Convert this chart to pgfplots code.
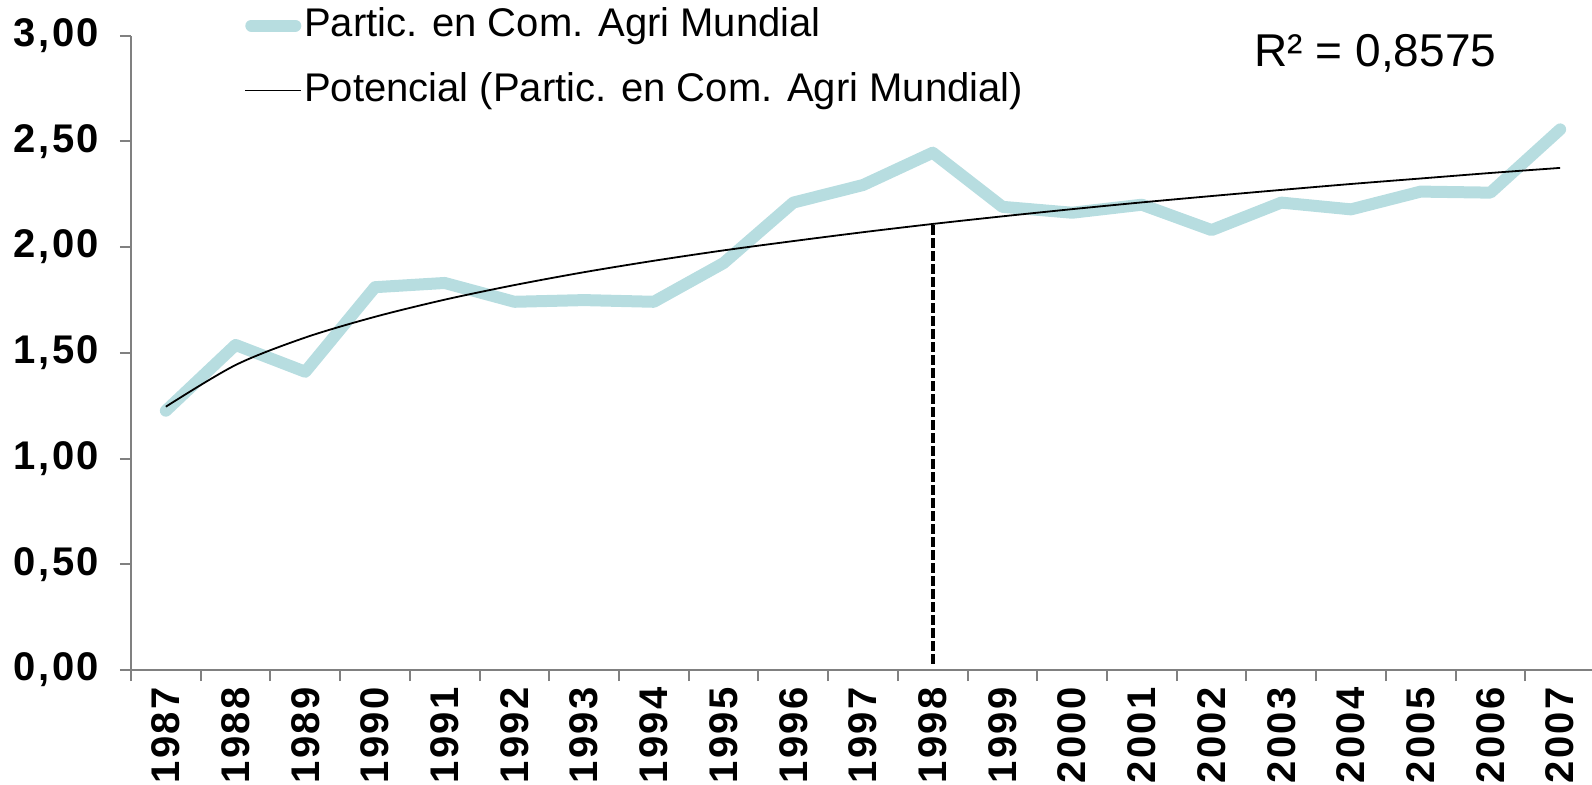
\documentclass[border=0pt]{standalone}
\usepackage{pgfplots}
\pgfplotsset{compat=1.18}
\usepackage{fontspec}
\setmainfont{Liberation Sans}
\newfontfamily\tickfont[LetterSpace=6]{Liberation Sans}
\definecolor{serie}{RGB}{183,221,224}
\definecolor{axgray}{RGB}{128,128,128}

\pgfplotsset{
  legthick/.style={legend image code/.code={\draw[##1] (3pt,0pt) -- (25pt,0pt);}},
  legthin/.style={legend image code/.code={\draw[##1] (0pt,0pt) -- (28pt,0pt);}},
}

\pgfplotstableread{
x y
0 1.226
1 1.537
2 1.41
3 1.81
4 1.83
5 1.741
6 1.749
7 1.741
8 1.924
9 2.21
10 2.293
11 2.446
12 2.19
13 2.162
14 2.20
15 2.08
16 2.21
17 2.178
18 2.262
19 2.257
20 2.556
}\serie

\pgfplotstableread{
x y
0 1.245
1 1.442
2 1.572
3 1.670
4 1.751
5 1.820
6 1.881
7 1.935
8 1.984
9 2.028
10 2.070
11 2.109
12 2.145
13 2.179
14 2.211
15 2.241
16 2.270
17 2.298
18 2.324
19 2.350
20 2.374
}\trend

\begin{document}
\begin{tikzpicture}
\begin{axis}[
  scale only axis, width=732pt, height=317.25pt,
  xmin=-0.5, xmax=20.5, ymin=0, ymax=3,
  axis x line*=bottom, axis y line*=left,
  axis line style={axgray, line width=1pt},
  xtick={0,...,20},
  xticklabels={1987,1988,1989,1990,1991,1992,1993,1994,1995,1996,1997,1998,1999,2000,2001,2002,2003,2004,2005,2006,2007},
  major x tick style={draw=none},
  minor xtick={-0.5,0.5,...,20.5},
  minor x tick style={axgray, line width=1pt},
  tick align=outside, major tick length=5.5pt, minor tick length=5.5pt,
  ytick={0,0.5,...,3},
  y tick style={axgray, line width=1pt},
  xticklabel style={rotate=90, anchor=east, inner sep=3pt, font=\tickfont\bfseries\fontsize{20}{20}\selectfont},
  yticklabel style={xshift=-7pt, font=\tickfont\bfseries\fontsize{20}{20}\selectfont,
    /pgf/number format/fixed, /pgf/number format/fixed zerofill,
    /pgf/number format/precision=2, /pgf/number format/use comma,
    /pgf/number format/assume math mode=true},
  legend style={draw=none, fill=none, at={(axis description cs:0.0772,0.9645)}, anchor=west,
    font=\fontsize{20}{24}\selectfont, row sep=12pt, inner sep=0pt,
    nodes={inner sep=1pt, text height=14.5pt, text depth=4pt}},
  legend cell align=left,
  clip=false,
]
\addplot[serie, line width=6pt, line join=round, line cap=round, legthick] table[x=x,y=y] {\serie};
\addlegendentry{Partic. en Com. Agri Mundial}
\addplot[black, line width=0.9pt, smooth, legthin] table[x=x,y=y] {\trend};
\addlegendentry{Potencial (Partic. en Com. Agri Mundial)}
\addplot[black, line width=1.8pt, dash pattern=on 5pt off 1.5pt, forget plot] coordinates {(11,0.03) (11,2.107)};
\node[font=\fontsize{23}{23}\selectfont] at (axis cs:17.35,2.917) {R² = 0,8575};
\end{axis}
\pgfresetboundingbox
\path (-65.5pt,-57pt) rectangle (730.5pt,335pt);
\end{tikzpicture}
\end{document}
